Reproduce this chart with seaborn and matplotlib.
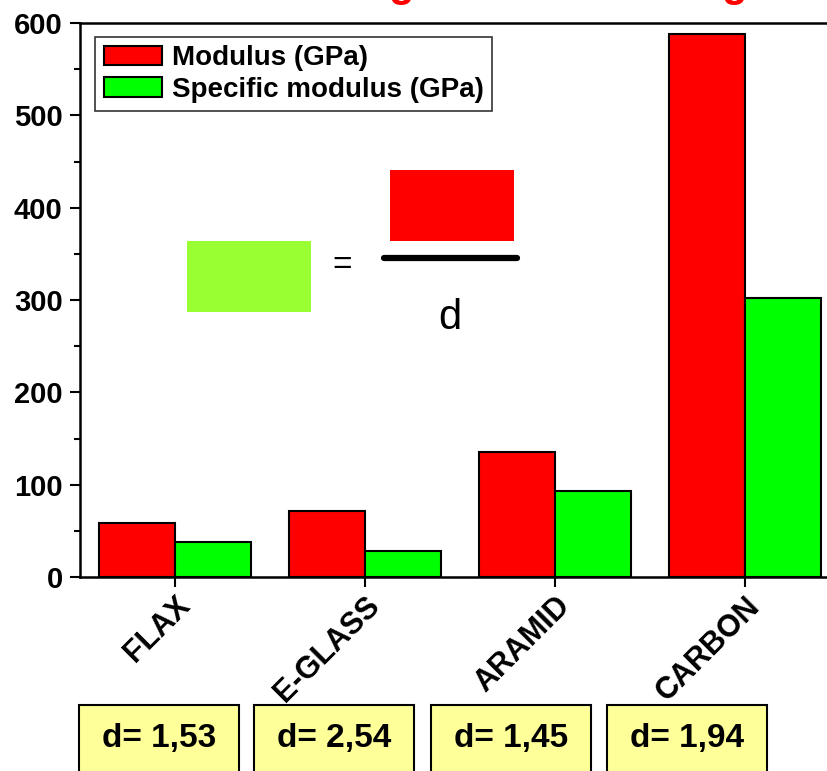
import numpy as np
import pandas as pd
import matplotlib
matplotlib.use('Agg')
import matplotlib.pyplot as plt
from matplotlib import font_manager
from matplotlib.patches import Rectangle, Patch
from matplotlib.ticker import MultipleLocator
import seaborn as sns

FIBERS = ['FLAX', 'E-GLASS', 'ARAMID', 'CARBON']
MODULUS = [58, 72, 135, 588]
SPECIFIC = [38, 28, 93, 302]
DENSITY = ['1,53', '2,54', '1,45', '1,94']
SERIES = ['Modulus (GPa)', 'Specific modulus (GPa)']
COLORS = ['#FF0000', '#00FF00']

df = pd.DataFrame({
    'Fiber': FIBERS * 2,
    'Value': MODULUS + SPECIFIC,
    'Series': [SERIES[0]] * 4 + [SERIES[1]] * 4,
})

sns.set_theme(style='ticks')
plt.rcParams['font.family'] = ['Liberation Sans', 'DejaVu Sans']
plt.rcParams['text.color'] = 'black'
plt.rcParams['xtick.color'] = 'black'
plt.rcParams['ytick.color'] = 'black'
plt.rcParams['xtick.labelcolor'] = 'black'
plt.rcParams['ytick.labelcolor'] = 'black'

W, H = 827, 771
fig = plt.figure(figsize=(W / 100, H / 100), dpi=100)
ax = fig.add_axes([80 / W, 1 - 577 / H, 760 / W, 554 / H])

sns.barplot(
    data=df, x='Fiber', y='Value', hue='Series', order=FIBERS,
    hue_order=SERIES, palette=COLORS, saturation=1, width=0.8,
    edgecolor='black', linewidth=1.5, ax=ax, legend=False
)
ax.set_xlim(-0.5, 3.5)
ax.set_ylim(0, 600)
ax.set_xlabel('')
ax.set_ylabel('')
ax.yaxis.set_major_locator(MultipleLocator(100))
ax.yaxis.set_minor_locator(MultipleLocator(50))
for s in ax.spines.values():
    s.set_linewidth(1.8)
    s.set_color('black')
ax.tick_params(axis='y', which='major', length=7, width=1.5, pad=5.5)
ax.tick_params(axis='y', which='minor', length=4, width=1.5)
ax.tick_params(axis='x', length=7, width=1.5, pad=3)
for t in ax.get_yticklabels():
    t.set_fontsize(21)
    t.set_fontweight('bold')
ax.set_xticks(range(len(FIBERS)))
ax.set_xticklabels(FIBERS, rotation=45, ha='right', rotation_mode='anchor',
                   fontsize=22, fontweight='bold')

handles = [Patch(facecolor=c, edgecolor='black', linewidth=1.5) for c in COLORS]
leg = ax.legend(handles, SERIES, loc='upper left', bbox_to_anchor=(0.02, 0.975),
                borderaxespad=0, frameon=True, fancybox=False, edgecolor='black',
                prop={'weight': 'bold', 'size': 20}, handlelength=2.1,
                handleheight=0.7, handletextpad=0.35, borderpad=0.3,
                labelspacing=0.2)
leg.get_frame().set_linewidth(1.2)

# formula: specific modulus = modulus / d
def fig_rect(x0, y0, x1, y1, **kw):
    fig.patches.append(Rectangle((x0 / W, 1 - y1 / H), (x1 - x0) / W, (y1 - y0) / H,
                                 transform=fig.transFigure, **kw))

fig_rect(187, 241, 311, 312, facecolor='#99FF33', edgecolor='none')
fig_rect(390, 170, 514, 241, facecolor='#FF0000', edgecolor='none')
fig.lines.append(plt.Line2D([384 / W, 517 / W], [1 - 258 / H] * 2,
                            transform=fig.transFigure, color='black', linewidth=4.5))
fig.text(342 / W, 1 - 266 / H, '=', fontsize=24, ha='center', va='center')
fig.text(450 / W, 1 - 318 / H, 'd', fontsize=30, ha='center', va='center')

# cropped red title, only the descenders show
fig.text(401 / W, 1 + 4 / H, 'g', color='#FF0000', fontsize=30, fontweight='bold',
         ha='center', va='baseline')
fig.text(734 / W, 1 + 4 / H, 'g', color='#FF0000', fontsize=30, fontweight='bold',
         ha='center', va='baseline')

# density boxes
names = {f.name for f in font_manager.fontManager.ttflist}
if 'Liberation Sans Narrow' in names:
    dfam, dsize = ['Liberation Sans Narrow', 'DejaVu Sans'], 28
else:
    dfam, dsize = ['Liberation Sans', 'DejaVu Sans'], 24
box_x = [79, 254, 431, 607]
for x0, d in zip(box_x, DENSITY):
    fig_rect(x0, 705, x0 + 160, 790, facecolor='#FFFF99', edgecolor='black', linewidth=1.5)
    fig.text((x0 + 80) / W, 1 - 739 / H, 'd= ' + d, fontsize=dsize, fontweight='bold',
             ha='center', va='center', family=dfam)

fig.savefig('out.png', dpi=100, facecolor='white')
